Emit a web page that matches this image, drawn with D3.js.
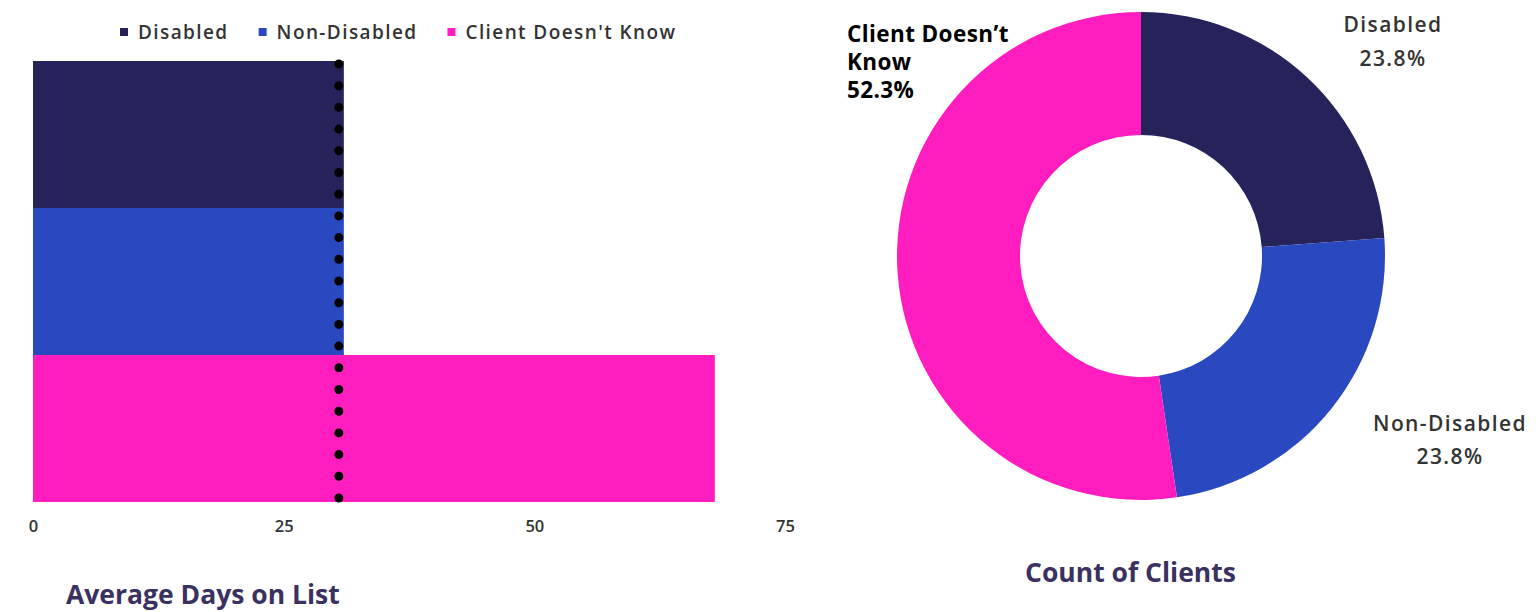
<!DOCTYPE html>
<html>
<head>
<meta charset="utf-8">
<script src="https://cdn.jsdelivr.net/npm/d3@7"></script>
<style>
  html, body { margin: 0; padding: 0; background: #fff; }
  svg { display: block; font-family: "Open Sans", "Noto Sans", sans-serif; }
</style>
</head>
<body>
<svg id="chart" width="1536" height="612"></svg>
<script>
// Categories and their colours
const categories = ["Disabled", "Non-Disabled", "Client Doesn\u2019t Know"];
const legendLabels = ["Disabled", "Non-Disabled", "Client Doesn't Know"];
const colors = ["#25235a", "#2a48bf", "#ff1dbf"];

// Average days on list per category, plus the dotted reference value
const avgDays = [31, 31, 68];
const referenceDays = 30.5;
const xTicks = [0, 25, 50, 75];

// Share of clients (%) per category
const clientShare = [23.8, 23.8, 52.3];

const svg = d3.select("#chart");

// ---------- Bar chart: Average Days on List ----------
const x = d3.scaleLinear().domain([0, 75]).range([33, 785]);
const y = d3.scaleBand().domain(categories).range([61, 502]).padding(0);

const bars = svg.append("g");
bars.selectAll("rect")
  .data(categories)
  .join("rect")
  .attr("x", x(0))
  .attr("y", d => y(d))
  .attr("width", (d, i) => x(avgDays[i]) - x(0))
  .attr("height", y.bandwidth())
  .attr("fill", (d, i) => colors[i]);

// dotted reference line
svg.append("line")
  .attr("x1", x(referenceDays)).attr("x2", x(referenceDays))
  .attr("y1", 64).attr("y2", 499)
  .attr("stroke", "#000")
  .attr("stroke-width", 9)
  .attr("stroke-linecap", "round")
  .attr("stroke-dasharray", "0 21.7");

// x axis tick labels
const xAxis = d3.axisBottom(x).tickValues(xTicks).tickSize(0).tickPadding(0);
const gx = svg.append("g").attr("transform", "translate(0,520)").call(xAxis);
gx.select(".domain").remove();
gx.selectAll("text")
  .attr("font-family", "'Open Sans', sans-serif")
  .attr("font-size", 16.5)
  .attr("font-weight", 600)
  .attr("fill", "#333");

// legend
const legend = svg.append("g").attr("transform", "translate(120,32)");
let lx = 0;
legendLabels.forEach((lab, i) => {
  const g = legend.append("g").attr("transform", `translate(${lx},0)`);
  g.append("rect").attr("x", 0).attr("y", -4).attr("width", 8).attr("height", 8).attr("fill", colors[i]);
  const t = g.append("text")
    .attr("x", 18).attr("y", 0).attr("dy", "0.35em")
    .attr("font-size", 19).attr("font-weight", 600)
    .attr("letter-spacing", 1.4)
    .attr("fill", "#333")
    .text(lab);
  lx += 18 + t.node().getComputedTextLength() + 30;
});

// bar chart title
svg.append("text")
  .attr("x", 66).attr("y", 604)
  .attr("font-size", 26.5).attr("font-weight", 700)
  .attr("fill", "#3b3160")
  .text("Average Days on List");

// ---------- Donut chart: Count of Clients ----------
const cx = 1141, cy = 256, rOuter = 244, rInner = 121;
const pie = d3.pie().sort(null).value(d => d)(clientShare);
const arc = d3.arc().innerRadius(rInner).outerRadius(rOuter);

const donut = svg.append("g").attr("transform", `translate(${cx},${cy})`);
donut.selectAll("path")
  .data(pie)
  .join("path")
  .attr("d", arc)
  .attr("fill", (d, i) => colors[i]);

// slice labels
const fmt = v => v.toFixed(1) + "%";

const lab0 = svg.append("text")
  .attr("text-anchor", "middle")
  .attr("font-size", 21).attr("font-weight", 600).attr("letter-spacing", 1.4)
  .attr("fill", "#333");
lab0.append("tspan").attr("x", 1393).attr("y", 32).text(categories[0]);
lab0.append("tspan").attr("x", 1393).attr("y", 66).text(fmt(clientShare[0]));

const lab1 = svg.append("text")
  .attr("text-anchor", "middle")
  .attr("font-size", 21).attr("font-weight", 600).attr("letter-spacing", 1.4)
  .attr("fill", "#333");
lab1.append("tspan").attr("x", 1450).attr("y", 431).text(categories[1]);
lab1.append("tspan").attr("x", 1450).attr("y", 464).text(fmt(clientShare[1]));

const lab2 = svg.append("text")
  .attr("font-size", 22.5).attr("font-weight", 700).attr("letter-spacing", 0.4)
  .attr("fill", "#000");
lab2.append("tspan").attr("x", 847).attr("y", 42).text("Client Doesn\u2019t");
lab2.append("tspan").attr("x", 847).attr("y", 70).text("Know");
lab2.append("tspan").attr("x", 847).attr("y", 98).text(fmt(clientShare[2]));

// donut title
svg.append("text")
  .attr("x", 1025).attr("y", 582)
  .attr("font-size", 26.5).attr("font-weight", 700)
  .attr("fill", "#3b3160")
  .text("Count of Clients");
</script>
</body>
</html>
